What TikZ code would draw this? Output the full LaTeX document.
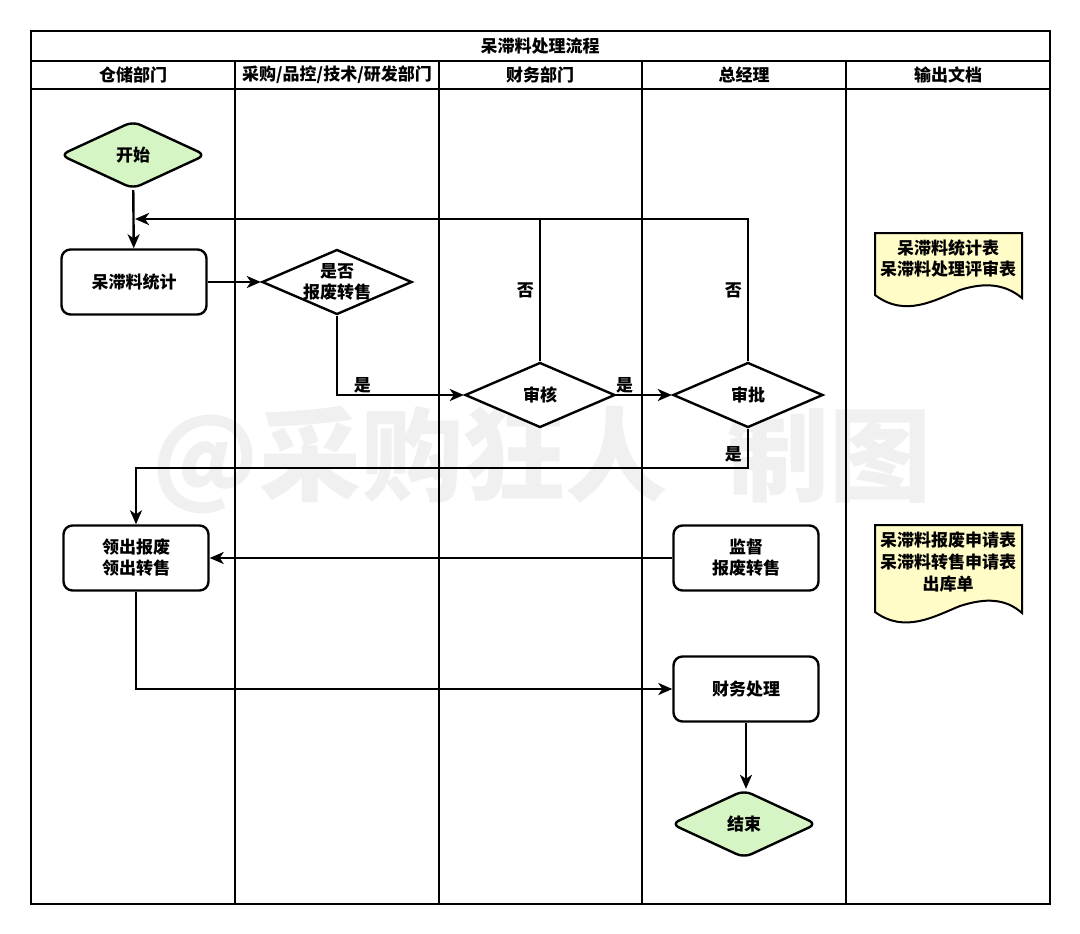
\documentclass[tikz,border=0pt]{standalone}
\usepackage{fontspec}
\setmainfont{Noto Sans CJK SC}
\usetikzlibrary{shapes.geometric, arrows.meta, positioning}

\definecolor{startgruen}{RGB}{214,245,196}
\definecolor{dokgelb}{RGB}{255,252,200}
\definecolor{wasser}{RGB}{240,240,240}

\begin{document}
\begin{tikzpicture}[
      x=1pt, y=-1pt,
      gitter/.style={draw=black, line width=2pt},
      schrift/.style={font=\bfseries\fontsize{17}{21}\selectfont},
      kasten/.style={schrift, draw=black, line width=2.4pt, rounded corners=9pt, fill=white,
        minimum width=145pt, minimum height=65pt, align=center},
      raute/.style={draw=black, line width=2.4pt, diamond, fill=white, inner sep=0pt,
        minimum width=150pt, minimum height=65pt,
        label={[schrift, align=center]center:#1}},
      terminal/.style={raute=#1, fill=startgruen, rounded corners=8pt, minimum width=146pt, minimum height=68pt},
      dokument/.style={draw=black, line width=2pt, fill=dokgelb},
      linie/.style={black, line width=2.4pt},
      pfeil/.style={linie, -{Stealth[length=14pt, width=12pt, inset=4pt]}},
      beschriftung/.style={schrift, inner sep=1pt}
    ]
    \useasboundingbox (0,0) rectangle (1080,934);
    \fill[white] (0,0) rectangle (1080,934);

    % ---------- Wasserzeichen ----------
    \node[text=wasser, font=\bfseries\fontsize{102}{110}\selectfont] (wasserzeichen) at (542,460)
      {@采购狂人\hspace{60pt}制图};

    % ---------- Tabelle ----------
    \draw[gitter] (31,31) rectangle (1050,904);
    \draw[gitter] (31,61) -- (1050,61);
    \draw[gitter, line width=2.8pt] (31,89) -- (1050,89);
    \foreach \x in {235,439,642,846}{
      \draw[gitter] (\x,61) -- (\x,904);
    }
    \node[schrift] (kopf) at (540,46) {呆滞料处理流程};
    \foreach \x/\name in {133/{仓储部门}, 337/{采购/品控/技术/研发部门}, 540/{财务部门}, 744/{总经理}, 948/{输出文档}}{
      \node[schrift] at (\x,75) {\name};
    }

    % ---------- Knoten ----------
    \node[terminal=开始]          (start)     at (133,155) {};
    \node[kasten]                 (erfassung) at (134,282) {呆滞料统计};
    \node[raute={是否\\报废转售}] (entscheid) at (337,282) {};
    \node[raute=审核]             (pruefung)  at (540,395) {};
    \node[raute=审批]             (freigabe)  at (748,395) {};
    \node[kasten]                 (ausgabe)   at (136,558) {领出报废\\领出转售};
    \node[kasten]                 (aufsicht)  at (746,558) {监督\\报废转售};
    \node[kasten]                 (buchung)   at (746,689) {财务处理};
    \node[terminal=结束]          (ende)      at (744,824) {};
    \coordinate (rueck) at (135,219);

    % ---------- Dokumente ----------
    \draw[dokument] (875,233) -- (1022,233) -- (1022,298)
      .. controls (1005,284) and (985,282) .. (960,290)
      .. controls (935,300) and (905,318) .. (875,295) -- cycle;
    \node[schrift, align=center] (dok1) at (948,258) {呆滞料统计表\\呆滞料处理评审表};
    \draw[dokument] (875,525) -- (1022,525) -- (1022,613)
      .. controls (1005,598) and (985,598) .. (960,606)
      .. controls (935,616) and (905,634) .. (875,612) -- cycle;
    \node[schrift, align=center, font=\bfseries\fontsize{17}{22}\selectfont] (dok2) at (948,562)
      {呆滞料报废申请表\\呆滞料转售申请表\\出库单};

    % ---------- Verbindungen ----------
    \draw[pfeil] (start) -- (erfassung);
    \draw[pfeil] (erfassung) -- (entscheid);
    \draw[pfeil] (entscheid.south) |- (pruefung.west)
      node[beschriftung, pos=0.6, above] {是};
    \draw[pfeil] (pruefung.east) -- (freigabe.west)
      node[beschriftung, pos=0.15, above] {是};
    \draw[linie] (pruefung.north) -- (pruefung.north |- rueck)
      node[beschriftung, pos=0.5, left=4pt] {否};
    \draw[pfeil] (freigabe.north) |- (rueck)
      node[beschriftung, pos=0.25, left=4pt] {否};
    \draw[pfeil] (freigabe.south) -- ++(0,39)
      node[beschriftung, pos=0.65, left=4pt] {是} -| (ausgabe.north);
    \draw[pfeil] (aufsicht) -- (ausgabe);
    \draw[pfeil] (ausgabe.south) |- (buchung.west);
    \draw[pfeil] (buchung.south) -- (buchung.south |- ende.north);
  \end{tikzpicture}
\end{document}
